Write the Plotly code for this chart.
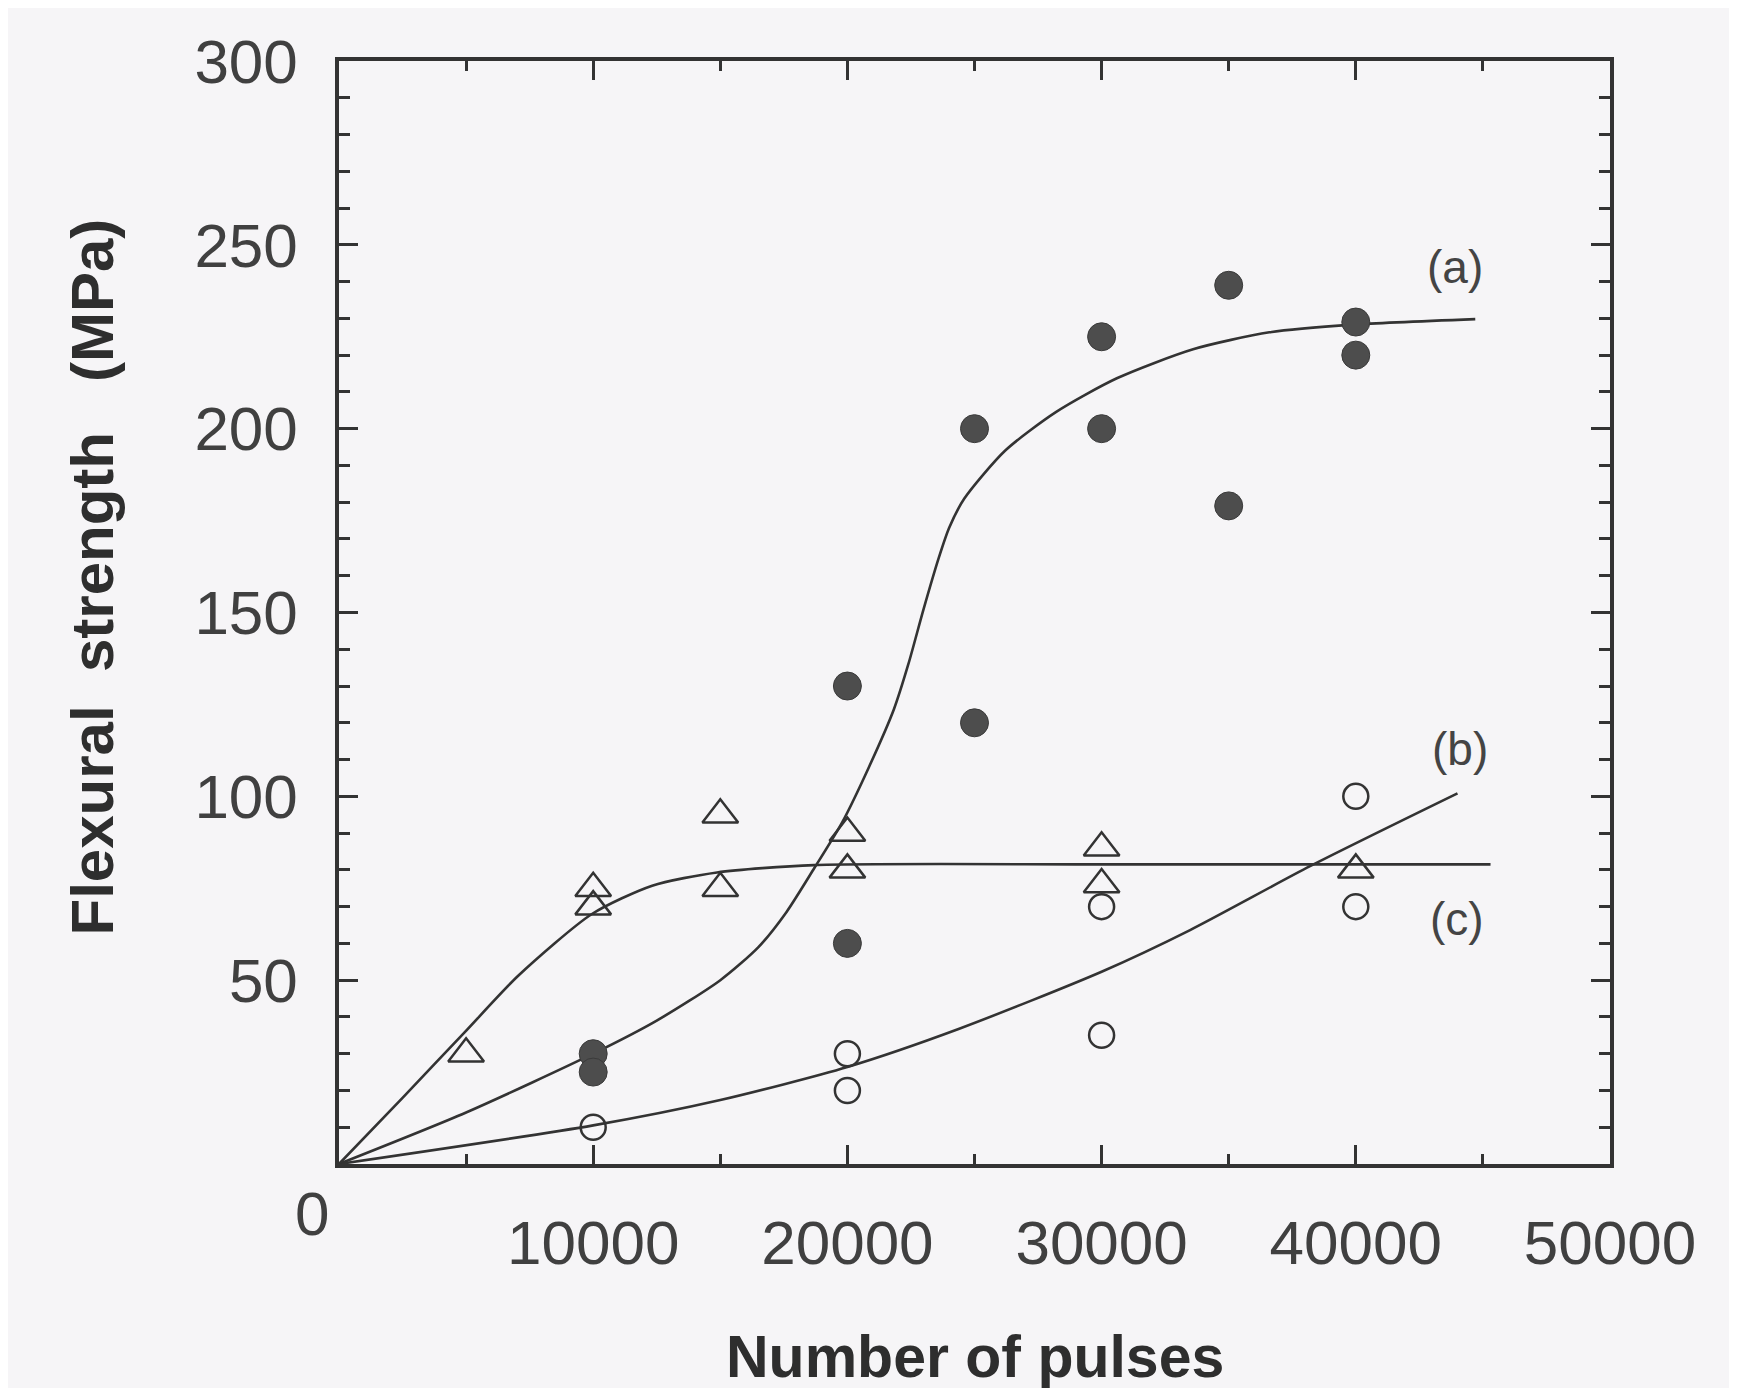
import plotly.graph_objects as go

# ---- data ----
# (a) filled circles
a_x = [10000, 10000, 20000, 20000, 25000, 25000, 30000, 30000, 35000, 35000, 40000, 40000]
a_y = [30, 25, 130, 60, 200, 120, 225, 200, 239, 179, 229, 220]
# (b) open circles
b_x = [10000, 20000, 20000, 30000, 30000, 40000, 40000]
b_y = [10, 30, 20, 70, 35, 100, 70]
# (c) open triangles
c_x = [5000, 10000, 10000, 15000, 15000, 20000, 20000, 30000, 30000, 40000]
c_y = [30, 75, 70, 95, 75, 90, 80, 86, 76, 80]

# fitted curves
fa_x = [0, 5000, 10000, 12500, 15000, 16500, 17600, 18700, 19800, 20850, 21830, 22400,
        23000, 23600, 24000, 24600, 26200, 28200, 30600, 33600, 36600, 39900, 44700]
fa_y = [0, 14, 30, 39, 50, 59, 68.5, 80.5, 93, 108, 123.7, 136,
        151, 165, 173, 181, 194, 204.5, 213.7, 221.6, 226.2, 228.3, 229.8]
fb_x = [0, 10000, 15000, 20000, 24400, 30000, 33500, 38200, 44000]
fb_y = [0, 10.5, 17.4, 26.4, 36.8, 52.3, 63.7, 81, 100.8]
fc_x = [0, 2500, 4940, 7050, 9950, 12320, 14870, 18690, 30000, 45300]
fc_y = [0, 18, 35.8, 51.2, 68, 75.7, 79.3, 81.3, 81.5, 81.5]

x_ticks = [0, 10000, 20000, 30000, 40000, 50000]
x_ticktext = ["", "10000", "20000", "30000", "40000", "50000"]
y_ticks = [0, 50, 100, 150, 200, 250, 300]
y_ticktext = ["", "50", "100", "150", "200", "250", "300"]

curve_labels = ["(a)", "(b)", "(c)"]
curve_label_x = [43900, 44100, 44000]
curve_label_y = [244, 113, 66.6]

BG = "#f6f5f7"
INK = "#333333"
FONT = "Liberation Sans, Arial, sans-serif"

fig = go.Figure()

line_style = dict(color=INK, width=2.6, shape="spline", smoothing=0.7)
fig.add_trace(go.Scatter(x=fa_x, y=fa_y, mode="lines", line=line_style, hoverinfo="skip"))
fig.add_trace(go.Scatter(x=fb_x, y=fb_y, mode="lines", line=line_style, hoverinfo="skip"))
fig.add_trace(go.Scatter(x=fc_x, y=fc_y, mode="lines", line=line_style, hoverinfo="skip"))

fig.add_trace(go.Scatter(
    x=a_x, y=a_y, mode="markers",
    marker=dict(symbol="circle", size=28, color="#4d4d4d",
                line=dict(color="#3a3a3a", width=1)),
))
fig.add_trace(go.Scatter(
    x=b_x, y=b_y, mode="markers",
    marker=dict(symbol="circle-open", size=25, color=INK, line=dict(color=INK, width=2.5)),
))
fig.add_trace(go.Scatter(
    x=c_x, y=c_y, mode="markers",
    marker=dict(symbol="triangle-up-open", size=31, color=INK, line=dict(color=INK, width=2.5)),
))

for t, lx, ly in zip(curve_labels, curve_label_x, curve_label_y):
    fig.add_annotation(x=lx, y=ly, xref="x", yref="y", text=t, showarrow=False,
                       xanchor="center", yanchor="middle",
                       font=dict(family=FONT, size=46, color="#444444"))

# lone "0" at the origin corner
fig.add_annotation(x=0, y=0, xref="x", yref="y", text="0", showarrow=False,
                   xanchor="center", yanchor="middle", xshift=-27, yshift=-49,
                   font=dict(family=FONT, size=62, color="#404040"))

# axis titles
fig.add_annotation(x=0.5, y=-0.175, xref="paper", yref="paper",
                   xanchor="center", yanchor="middle",
                   text="<b>Number of pulses</b>", showarrow=False,
                   font=dict(family=FONT, size=59, color="#2e2e2e"))
fig.add_annotation(x=-0.1936, y=0.5326, xref="paper", yref="paper",
                   xanchor="center", yanchor="middle",
                   text="<b>Flexural\u00a0\u00a0strength\u00a0\u00a0\u00a0(MPa)</b>", showarrow=False,
                   textangle=-90,
                   font=dict(family=FONT, size=60, color="#2e2e2e"))

axis_common = dict(
    showline=True, linewidth=3.5, linecolor=INK, mirror="allticks",
    ticks="inside", ticklen=19, tickwidth=2.5, tickcolor=INK,
    showgrid=False, zeroline=False,
    tickfont=dict(family=FONT, size=62, color="#404040"),
)

fig.update_xaxes(range=[0, 50000], tickmode="array", tickvals=x_ticks, ticktext=x_ticktext,
                 ticklabelstandoff=22,
                 minor=dict(tickmode="linear", tick0=0, dtick=5000, ticks="inside",
                            ticklen=10, tickwidth=2.5, tickcolor=INK),
                 **axis_common)
fig.update_yaxes(range=[0, 300], tickmode="array", tickvals=y_ticks, ticktext=y_ticktext,
                 ticklabelstandoff=25,
                 minor=dict(tickmode="linear", tick0=0, dtick=10, ticks="inside",
                            ticklen=11, tickwidth=2.5, tickcolor=INK),
                 **axis_common)

fig.update_layout(
    width=1737, height=1388, autosize=False,
    margin=dict(l=331, r=135, t=53, b=232),
    paper_bgcolor=BG, plot_bgcolor=BG,
    showlegend=False,
)

fig.write_html("out.html")
